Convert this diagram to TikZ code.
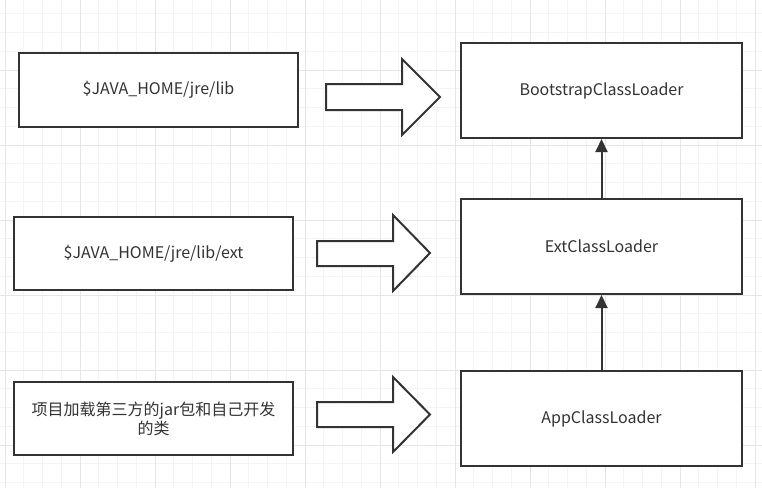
\documentclass[tikz,border=0pt]{standalone}
\usepackage{fontspec}
\setmainfont{Noto Sans CJK SC}
\usetikzlibrary{arrows.meta}
\definecolor{ink}{HTML}{333333}
\definecolor{gridminor}{HTML}{F4F4F4}
\definecolor{gridmajor}{HTML}{E6E6E6}
\tikzset{
  box/.style={draw=ink, line width=2pt, fill=white, inner sep=0pt, text=ink,
    font=\fontsize{16}{20}\selectfont, align=center},
  blockarrow/.style={draw=ink, line width=2pt, fill=white, line join=miter},
  uparrow/.style={draw=ink, line width=2pt, -{Triangle[length=13pt,width=12pt]}}
}
\begin{document}
\begin{tikzpicture}[x=1pt,y=-1pt]
\useasboundingbox (0,0) rectangle (762,488);
\fill[white] (0,0) rectangle (762,488);
% grid
\foreach \i in {0,...,41} {
  \draw[gridminor, line width=0.8pt] ({5+18.75*\i},0) -- ({5+18.75*\i},488);
}
\foreach \i in {0,...,26} {
  \draw[gridminor, line width=0.8pt] (0,{-5+18.75*\i}) -- (762,{-5+18.75*\i});
}
\foreach \i in {0,...,10} {
  \draw[gridmajor, line width=1pt] ({5+75*\i},0) -- ({5+75*\i},488);
}
\foreach \i in {0,...,6} {
  \draw[gridmajor, line width=1pt] (0,{-5+75*\i}) -- (762,{-5+75*\i});
}
% left boxes
\node[box, minimum width=279pt, minimum height=74pt] (lib) at (158.5,90) {\$JAVA\_HOME/jre/lib};
\node[box, minimum width=279pt, minimum height=73pt] (ext) at (153.5,253.5) {\$JAVA\_HOME/jre/lib/ext};
\node[box, minimum width=279pt, minimum height=73pt, text width=262pt] (proj) at (153.5,418.5) {项目加载第三方的jar包和自己开发\\[-1pt]的类};
% right boxes
\node[box, minimum width=281pt, minimum height=95pt] (boot) at (601.5,90.5) {BootstrapClassLoader};
\node[box, minimum width=281pt, minimum height=95pt] (extcl) at (601.5,246.5) {ExtClassLoader};
\node[box, minimum width=281pt, minimum height=95pt] (app) at (601.5,418.5) {AppClassLoader};
% block arrows
\draw[blockarrow] (326,84) -- (402,84) -- (402,59) -- (440,97) -- (402,135) -- (402,110) -- (326,110) -- cycle;
\draw[blockarrow] (317,241) -- (393,241) -- (393,215) -- (430,253) -- (393,291) -- (393,266) -- (317,266) -- cycle;
\draw[blockarrow] (317,402) -- (393,402) -- (393,377) -- (430,414.5) -- (393,452) -- (393,427) -- (317,427) -- cycle;
% inheritance arrows
\draw[uparrow] (extcl.north) -- (boot.south);
\draw[uparrow] (app.north) -- (extcl.south);
\end{tikzpicture}
\end{document}
